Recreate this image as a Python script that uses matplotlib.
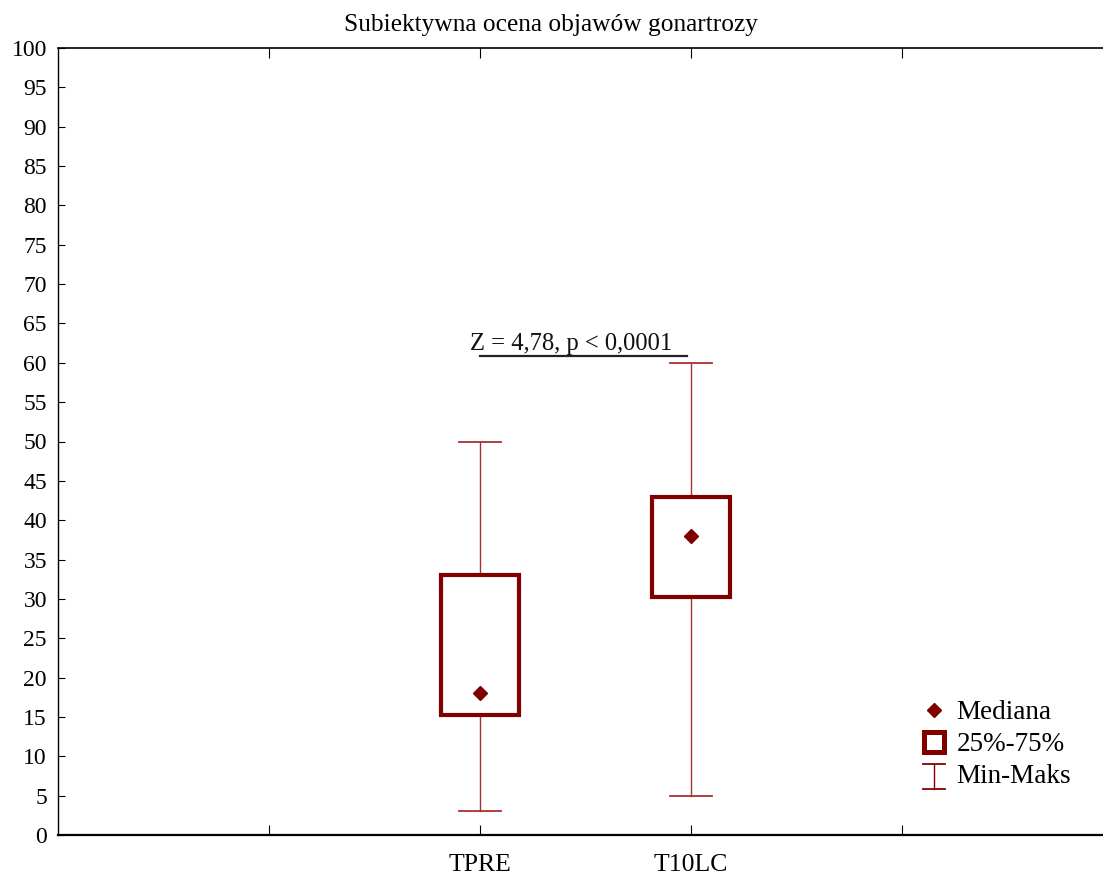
import matplotlib
matplotlib.use("Agg")
import matplotlib.pyplot as plt
from matplotlib.lines import Line2D
from matplotlib.patches import Rectangle
from matplotlib.legend_handler import HandlerBase

plt.rcParams['font.family'] = ['Liberation Serif', 'DejaVu Serif']

# Data
categories = ['TPRE', 'T10LC']
positions = [2, 3]
minimum = [3, 5]
q1 = [15.3, 30.3]
median = [18, 38]
q3 = [33, 43]
maximum = [50, 60]
stat_text = 'Z = 4,78, p < 0,0001'
stat_y = 60.9

box_color = '#800000'
whisk_color = '#a83232'

fig = plt.figure(figsize=(11.03, 8.76), dpi=100)
ax = fig.add_axes([58 / 1103, 1 - 835 / 876, 1 - 58 / 1103, (835 - 48) / 876])

box_w = 0.37
cap_w = 0.2
for x, lo, a, m, b, hi in zip(positions, minimum, q1, median, q3, maximum):
    # whiskers
    ax.plot([x, x], [lo, a], color=whisk_color, lw=1.0, zorder=2)
    ax.plot([x, x], [b, hi], color=whisk_color, lw=1.0, zorder=2)
    ax.plot([x - cap_w / 2, x + cap_w / 2], [lo, lo], color=whisk_color, lw=1.3, zorder=2)
    ax.plot([x - cap_w / 2, x + cap_w / 2], [hi, hi], color=whisk_color, lw=1.3, zorder=2)
    # interquartile box
    ax.add_patch(Rectangle((x - box_w / 2, a), box_w, b - a, facecolor='white',
                           edgecolor=box_color, lw=3.0, zorder=3))
    # median
    ax.plot([x], [m], marker='D', ms=7, color=box_color, mec=box_color, zorder=4)

# Test statistic annotation
ax.plot([positions[0], positions[1] - 0.02], [stat_y, stat_y], color='#222222', lw=1.6, zorder=2)
ax.text((positions[0] + positions[1]) / 2 - 0.07, stat_y + 0.1, stat_text, ha='center',
        va='bottom', fontsize=17.7, color='#111111')

ax.set_xlim(0, 4.953)
ax.set_ylim(0, 100)
ax.set_yticks(range(0, 101, 5))
ax.set_xticks([1, 2, 3, 4])
ax.set_xticklabels(['', categories[0], categories[1], ''])
ax.tick_params(axis='y', direction='in', length=5, labelsize=17, pad=8, left=True)
ax.tick_params(axis='x', direction='in', length=7, labelsize=18.5, pad=14, top=True)
ax.spines['right'].set_visible(False)
ax.spines['bottom'].set_linewidth(1.6)
ax.spines['left'].set_linewidth(1.0)
ax.spines['top'].set_linewidth(1.2)

# Title centred on the figure width
ax.set_title('Subiektywna ocena objawów gonartrozy', fontsize=18.3, pad=12,
             x=(0.5 - 58 / 1103) / (1 - 58 / 1103))


class MinMaxHandler(HandlerBase):
    def create_artists(self, legend, orig_handle, xdescent, ydescent, width, height,
                       fontsize, trans):
        cx = width / 2 - xdescent
        y0 = -ydescent - 0.3 * height
        y1 = -ydescent + 1.0 * height
        hw = width * 0.4
        arts = [Line2D([cx, cx], [y0, y1], color=box_color, lw=1.0),
                Line2D([cx - hw, cx + hw], [y0, y0], color=box_color, lw=1.3),
                Line2D([cx - hw, cx + hw], [y1, y1], color=box_color, lw=1.3)]
        for a in arts:
            a.set_transform(trans)
        return arts


h_med = Line2D([], [], marker='D', ls='none', ms=7, color=box_color)
h_box = Line2D([], [], marker='s', ls='none', ms=14, mfc='white', mec=box_color, mew=3.6)
h_rng = object()
leg = ax.legend([h_med, h_box, h_rng], ['Mediana', '25%-75%', 'Min-Maks'],
                handler_map={h_rng: MinMaxHandler()},
                loc='upper left', bbox_to_anchor=(0.802, 0.202), frameon=False,
                fontsize=19.5, handlelength=1.0, handletextpad=0.33, labelspacing=0.25)

fig.savefig('out.png', dpi=100)
